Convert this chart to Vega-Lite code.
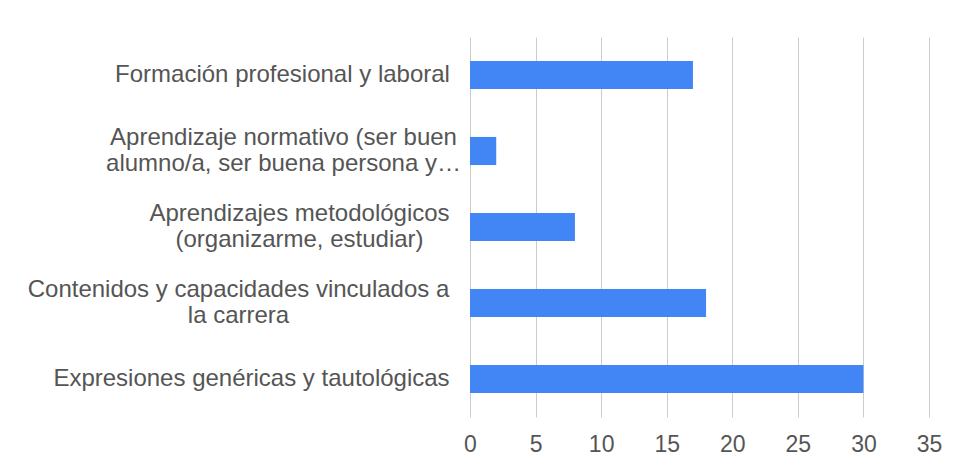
{
  "$schema": "https://vega.github.io/schema/vega-lite/v6.json",
  "autosize": "none",
  "width": 459,
  "height": 380,
  "padding": {"left": 470, "top": 37, "right": 32, "bottom": 55},
  "background": "white",
  "config": {"view": {"stroke": null}},
  "data": {
    "values": [
      {"categoria": "Formación profesional y laboral", "valor": 17},
      {"categoria": "Aprendizaje normativo (ser buen\nalumno/a, ser buena persona y…", "valor": 2},
      {"categoria": "Aprendizajes metodológicos\n(organizarme, estudiar)", "valor": 8},
      {"categoria": "Contenidos y capacidades vinculados a\nla carrera", "valor": 18},
      {"categoria": "Expresiones genéricas y tautológicas", "valor": 30}
    ]
  },
  "mark": {"type": "bar", "color": "#4285f4"},
  "encoding": {
    "y": {
      "field": "categoria",
      "type": "nominal",
      "sort": null,
      "title": null,
      "scale": {"paddingInner": 0.63, "paddingOuter": 0.315},
      "axis": {
        "domain": false,
        "ticks": false,
        "grid": false,
        "labelPadding": {
          "condition": [
            {"test": "indexof(datum.value, 'Formación') == 0", "value": 188},
            {"test": "indexof(datum.value, 'Aprendizaje normativo') == 0", "value": 187},
            {"test": "indexof(datum.value, 'Aprendizajes metod') == 0", "value": 171},
            {"test": "indexof(datum.value, 'Contenidos') == 0", "value": 232}
          ],
          "value": 219
        },
        "labelOffset": {
          "condition": {"test": "indexof(datum.value, '\\n') >= 0", "value": -13},
          "value": 0
        },
        "labelAlign": "center",
        "labelBaseline": "middle",
        "labelFont": "Liberation Sans",
        "labelFontSize": 24,
        "labelColor": "#555555",
        "labelLineHeight": 26,
        "labelLimit": 0,
        "labelExpr": "split(datum.label, '\\n')"
      }
    },
    "x": {
      "field": "valor",
      "type": "quantitative",
      "title": null,
      "scale": {"domain": [0, 35], "nice": false},
      "axis": {
        "values": [0, 5, 10, 15, 20, 25, 30, 35],
        "domain": false,
        "ticks": false,
        "grid": true,
        "gridColor": "#cccccc",
        "gridWidth": 1,
        "labelPadding": 16,
        "labelFont": "Liberation Sans",
        "labelFontSize": 23,
        "labelColor": "#555555",
        "labelFlush": false
      }
    }
  }
}
